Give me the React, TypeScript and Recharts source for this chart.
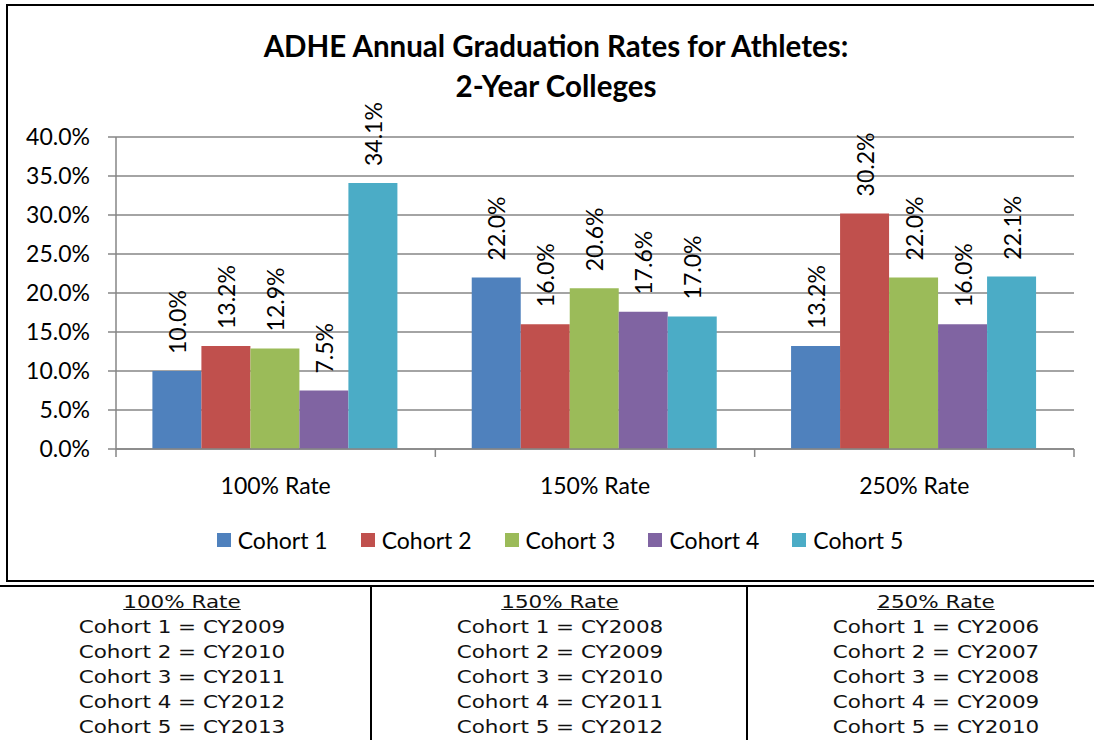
import React from 'react';
import { BarChart, Bar, XAxis, YAxis, CartesianGrid, Legend, LabelList } from 'recharts';

const categories = ['100% Rate', '150% Rate', '250% Rate'];
const seriesNames = ['Cohort 1', 'Cohort 2', 'Cohort 3', 'Cohort 4', 'Cohort 5'];
const seriesKeys = ['c1', 'c2', 'c3', 'c4', 'c5'];
const seriesColors = ['#4F81BD', '#C0504D', '#9BBB59', '#8064A2', '#4BACC6'];
const cohort1 = [10.0, 22.0, 13.2];
const cohort2 = [13.2, 16.0, 30.2];
const cohort3 = [12.9, 20.6, 22.0];
const cohort4 = [7.5, 17.6, 16.0];
const cohort5 = [34.1, 17.0, 22.1];
const yTicks = [0, 5, 10, 15, 20, 25, 30, 35, 40];
const titleLines = ['ADHE Annual Graduation Rates for Athletes:', '2-Year Colleges'];
const years100 = ['CY2009', 'CY2010', 'CY2011', 'CY2012', 'CY2013'];
const years150 = ['CY2008', 'CY2009', 'CY2010', 'CY2011', 'CY2012'];
const years250 = ['CY2006', 'CY2007', 'CY2008', 'CY2009', 'CY2010'];

const allSeries = [cohort1, cohort2, cohort3, cohort4, cohort5];
const data = categories.map((name, i) => {
  const row: any = { name };
  seriesKeys.forEach((k, s) => { row[k] = allSeries[s][i]; });
  return row;
});
const tableCols = [
  { header: categories[0], years: years100 },
  { header: categories[1], years: years150 },
  { header: categories[2], years: years250 },
];

const CAL = 'Lato, "Open Sans", sans-serif';
const VER = '"DejaVu Sans", Verdana, sans-serif';
const GRAY = '#868686';

const fmt = (v: number) => `${v.toFixed(1)}%`;

const CatTick = (props: any) => {
  const { x, y, payload, index } = props;
  const half = payload && payload.offset ? payload.offset : 0;
  return (
    <g>
      <line x1={x - half} x2={x - half} y1={y} y2={y + 8} stroke={GRAY} strokeWidth={1.5} />
      {index === categories.length - 1 && (
        <line x1={x + half} x2={x + half} y1={y} y2={y + 8} stroke={GRAY} strokeWidth={1.5} />
      )}
      <text x={x} y={y + 36} textAnchor="middle" dominantBaseline="central" fontFamily={CAL} fontSize={23} fill="#000">
        {payload.value}
      </text>
    </g>
  );
};

const RotLabel = (props: any) => {
  const { x, y, width, value } = props;
  const cx = x + width / 2;
  const cy = y - 17;
  return (
    <text x={cx} y={cy} transform={`rotate(-90, ${cx}, ${cy})`} textAnchor="start" dominantBaseline="central"
      fontFamily={CAL} fontSize={23} fill="#000">
      {fmt(value)}
    </text>
  );
};

const LegendContent = () => (
  <div style={{ display: 'flex', justifyContent: 'center', alignItems: 'center', fontFamily: CAL, fontSize: 23 }}>
    {seriesNames.map((n, i) => (
      <div key={n} style={{ display: 'flex', alignItems: 'center', marginRight: i < seriesNames.length - 1 ? 33 : 0 }}>
        <span style={{ display: 'inline-block', width: 14, height: 14, background: seriesColors[i], marginRight: 7 }} />
        <span>{n}</span>
      </div>
    ))}
  </div>
);

export default function App() {
  return (
    <div style={{ position: 'absolute', left: 0, top: 0, width: 1094, height: 740, overflow: 'hidden', background: '#fff' }}>
      <div style={{ position: 'absolute', left: 6, top: 4, width: 1100, height: 574, border: '2px solid #000' }} />
      <div style={{ position: 'absolute', left: 0, top: 26, width: 1112, textAlign: 'center', fontFamily: CAL, fontWeight: 700, fontSize: 29.5, lineHeight: '40px', color: '#000' }}>
        {titleLines.map((t) => <div key={t}>{t}</div>)}
      </div>
      <div style={{ position: 'absolute', left: 0, top: 0 }}>
        <BarChart width={1094} height={580} data={data} margin={{ top: 137, right: 20, left: 16, bottom: 91 }}
          barCategoryGap="11.4%" barGap={0}>
          <CartesianGrid vertical={false} stroke={GRAY} strokeWidth={1.5} />
          <XAxis dataKey="name" height={40} tickSize={0} tickMargin={0} tick={<CatTick />} tickLine={false}
            axisLine={{ stroke: GRAY, strokeWidth: 1.5 }} interval={0} />
          <YAxis width={100} domain={[0, 40]} ticks={yTicks} tickFormatter={fmt} tickSize={8} tickMargin={18}
            axisLine={{ stroke: GRAY, strokeWidth: 1.5 }} tickLine={{ stroke: GRAY, strokeWidth: 1.5 }}
            tick={{ fontFamily: CAL, fontSize: 23, fill: '#000' }} allowDataOverflow />
          <Legend verticalAlign="middle" align="center" layout="horizontal" content={<LegendContent />}
            wrapperStyle={{ top: 526, left: 0, width: 1120 }} />
          {seriesKeys.map((k, i) => (
            <Bar key={k} dataKey={k} name={seriesNames[i]} fill={seriesColors[i]} isAnimationActive={false}>
              <LabelList dataKey={k} content={<RotLabel />} />
            </Bar>
          ))}
        </BarChart>
      </div>
      <div style={{ position: 'absolute', left: 0, top: 585, width: 1094, height: 2, background: '#000' }} />
      {tableCols.map((c, i) => (
        <div key={c.header} style={{ position: 'absolute', left: i * 376 - 6, top: 587, width: 376, height: 153, borderLeft: i > 0 ? '2px solid #000' : 'none', textAlign: 'center', fontFamily: VER, fontSize: 18.5, color: '#111' }}>
          <div style={{ transform: 'scaleX(1.16)', lineHeight: '25px', paddingTop: 2 }}>
            <div style={{ textDecoration: 'underline' }}>{c.header}</div>
            {c.years.map((y, j) => <div key={y}>{`${seriesNames[j]} = ${y}`}</div>)}
          </div>
        </div>
      ))}
    </div>
  );
}
